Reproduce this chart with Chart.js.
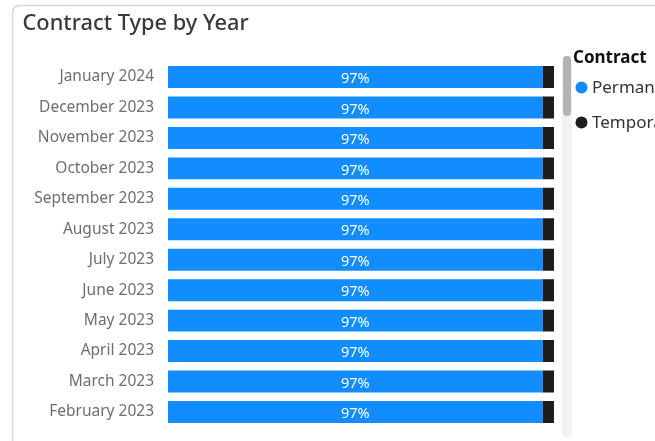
<!DOCTYPE html>
<html>
<head>
<meta charset="utf-8">
<script src="https://cdn.jsdelivr.net/npm/chart.js@4.4.1/dist/chart.umd.min.js"></script>
<style>
  html, body { margin: 0; padding: 0; background: #fff; }
  #wrap { width: 655px; height: 441px; position: relative; }
</style>
</head>
<body>
<div id="wrap"><canvas id="c" width="655" height="441"></canvas></div>
<script>
const months = [
  'January 2024', 'December 2023', 'November 2023', 'October 2023',
  'September 2023', 'August 2023', 'July 2023', 'June 2023',
  'May 2023', 'April 2023', 'March 2023', 'February 2023'
];
const permanentPct = [97, 97, 97, 97, 97, 97, 97, 97, 97, 97, 97, 97];
const temporaryPct = [3, 3, 3, 3, 3, 3, 3, 3, 3, 3, 3, 3];
const seriesNames = ['Permanent', 'Temporary'];
const legendTitle = 'Contract';
const chartTitle = 'Contract Type by Year';

const FONT = '"Noto Sans", "Open Sans", sans-serif';

function roundRect(ctx, x, y, w, h, r) {
  ctx.beginPath();
  ctx.moveTo(x + r, y);
  ctx.lineTo(x + w - r, y);
  ctx.quadraticCurveTo(x + w, y, x + w, y + r);
  ctx.lineTo(x + w, y + h - r);
  ctx.quadraticCurveTo(x + w, y + h, x + w - r, y + h);
  ctx.lineTo(x + r, y + h);
  ctx.quadraticCurveTo(x, y + h, x, y + h - r);
  ctx.lineTo(x, y + r);
  ctx.quadraticCurveTo(x, y, x + r, y);
  ctx.closePath();
}

// Card frame, title, scroll bar and the legend on the right
const decor = {
  id: 'decor',
  beforeDraw(chart) {
    const ctx = chart.ctx;
    ctx.save();
    ctx.fillStyle = '#ffffff';
    ctx.fillRect(0, 0, chart.width, chart.height);
    roundRect(ctx, 12.5, 5.5, 700, 500, 8);
    ctx.strokeStyle = '#d9d9d9';
    ctx.lineWidth = 1.5;
    ctx.stroke();

    ctx.fillStyle = '#3a3a3a';
    ctx.font = '500 21.8px ' + FONT;
    ctx.textBaseline = 'middle';
    ctx.textAlign = 'left';
    ctx.fillText(chartTitle, 22.5, 24);

    // scroll track and thumb
    roundRect(ctx, 562, 56, 10, 382, 5);
    ctx.fillStyle = '#f2f2f2';
    ctx.fill();
    roundRect(ctx, 563, 56, 8, 60, 4);
    ctx.fillStyle = '#b3b3b3';
    ctx.fill();
    ctx.restore();
  },
  afterDraw(chart) {
    const ctx = chart.ctx;
    ctx.save();
    ctx.textBaseline = 'middle';
    ctx.textAlign = 'left';
    ctx.fillStyle = '#111';
    ctx.font = 'bold 17px ' + FONT;
    ctx.fillText(legendTitle, 573, 58);
    const rows = [87.5, 122.5];
    chart.data.datasets.forEach((ds, i) => {
      ctx.beginPath();
      ctx.arc(581.5, rows[i], 6, 0, Math.PI * 2);
      ctx.fillStyle = ds.backgroundColor;
      ctx.fill();
      ctx.fillStyle = '#333';
      ctx.font = '17px ' + FONT;
      ctx.fillText(ds.label, 592, rows[i] + 0.5);
    });

    // value labels inside the permanent bars
    const meta = chart.getDatasetMeta(0);
    ctx.fillStyle = '#ffffff';
    ctx.font = '14.5px ' + FONT;
    ctx.textAlign = 'center';
    meta.data.forEach((bar, j) => {
      const v = chart.data.datasets[0].data[j];
      const cx = (bar.base + bar.x) / 2;
      ctx.fillText(v + '%', cx, bar.y + 2);
    });
    ctx.restore();
  }
};

new Chart(document.getElementById('c'), {
  type: 'bar',
  data: {
    labels: months,
    datasets: [
      { label: seriesNames[0], data: permanentPct, backgroundColor: '#118DFF',
        borderWidth: 0, barPercentage: 0.72, categoryPercentage: 1 },
      { label: seriesNames[1], data: temporaryPct, backgroundColor: '#1d1d1d',
        borderWidth: 0, barPercentage: 0.72, categoryPercentage: 1 }
    ]
  },
  options: {
    indexAxis: 'y',
    responsive: false,
    animation: false,
    layout: { padding: { top: 61.8, bottom: 13.8, left: 0, right: 101 } },
    plugins: {
      legend: { display: false },
      title: { display: false },
      tooltip: { enabled: false }
    },
    scales: {
      x: { stacked: true, min: 0, max: 100, display: false },
      y: {
        stacked: true,
        grid: { display: false, drawTicks: false },
        border: { display: false },
        ticks: { color: '#6e6e6e', font: { family: FONT, size: 15.5 }, padding: 14 },
        afterFit(scale) {
          scale.width = 168;
          scale.paddingTop = 0;
          scale.paddingBottom = 0;
        }
      }
    }
  },
  plugins: [decor]
});
</script>
</body>
</html>
